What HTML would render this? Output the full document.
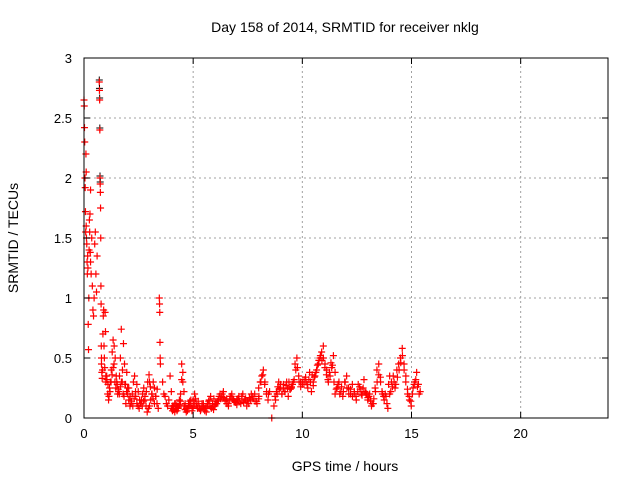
<!DOCTYPE html>
<html><head><meta charset="utf-8"><style>
body{margin:0;background:#fff;}
svg{display:block;font-family:"Liberation Sans",sans-serif;}
</style></head><body>
<svg id="chart" width="640" height="480">
<text x="345" y="32" font-size="14" text-anchor="middle">Day 158 of 2014, SRMTID for receiver nklg</text>
<text x="345" y="471" font-size="14" text-anchor="middle">GPS time / hours</text>
<text x="18" y="238" font-size="14" text-anchor="middle" transform="rotate(-90 18 238)">SRMTID / TECUs</text>
<g id="grid"></g><g id="marks"></g><g id="axes"></g>
</svg>
<script>
const xTicks=[0,5,10,15,20];
const yTicks=[0,0.5,1,1.5,2,2.5,3];
const yTickLabels=["0","0.5","1","1.5","2","2.5","3"];
const segStart=[0,0.1,0.3,0.7,0.8,1.0,2.0,3.0,3.45,3.6,4.0,5.0,6.0,7.0,8.0,8.6,8.7,9.5,10.5,11.5,13.0,14.0,
 1.05,2.05,4.05,5.05,6.05,7.05,8.75,9.55,10.55,11.55,13.05,14.05];
const segEnd=[0.1,0.3,0.6,0.8,1.0,2.0,3.0,3.4,3.5,4.0,5.0,6.0,7.0,8.0,8.5,8.6,9.5,10.5,11.5,13.0,14.0,15.4,
 1.95,3.35,4.95,5.95,6.95,8.45,9.45,10.45,11.45,12.95,13.95,15.35];
const segValues=[
[2.65,2.6,2.42,2.3,2.0,1.92,1.72,1.55,2.2,2.05],
[1.6,1.5,1.45,1.3,1.2,1.35,1.25,0.78,0.57,1.0,1.4,1.65,1.55,1.7,1.38,1.9],
[1.3,1.2,1.5,1.1,0.9,0.85,1.0,1.45,1.55,1.2,1.05,1.35],
[2.8,2.73,2.65,2.4,2.0,1.95,1.88,1.75,1.5,1.1,0.95,0.6,0.5],
[0.45,0.38,0.33,0.4,0.7,0.85,0.9,0.6,0.5,0.42,0.88,0.72,0.35],
[0.3,0.35,0.2,0.15,0.25,0.3,0.4,0.55,0.65,0.45,0.3,0.25,0.3,0.2,0.22,0.35,0.5,0.74,0.3,0.2,0.18,0.28,0.12,0.38,0.25],
[0.2,0.15,0.1,0.12,0.2,0.3,0.35,0.18,0.12,0.1,0.08,0.12,0.15,0.2,0.25,0.15,0.1,0.05,0.08,0.3],
[0.1,0.15,0.2,0.3,0.25,0.18,0.12,0.08],
[1.0,0.95,0.88,0.63,0.5,0.45],
[0.3,0.2,0.18,0.12,0.1,0.15,0.35,0.22],
[0.08,0.06,0.1,0.05,0.12,0.1,0.08,0.15,0.2,0.45,0.3,0.1,0.07,0.05,0.08,0.12,0.1,0.15,0.06,0.09],
[0.15,0.2,0.12,0.08,0.1,0.06,0.1,0.12,0.08,0.05,0.1,0.15,0.18,0.09,0.07,0.11],
[0.1,0.12,0.15,0.2,0.18,0.22,0.15,0.12,0.1,0.18,0.2,0.15,0.13,0.11],
[0.15,0.18,0.12,0.2,0.15,0.1,0.12,0.15,0.18,0.2,0.14,0.16],
[0.25,0.3,0.35,0.4,0.3,0.2,0.15,0.22],
[0.0],
[0.1,0.15,0.2,0.3,0.25,0.2,0.28,0.22,0.3,0.18,0.24,0.26],
[0.25,0.3,0.45,0.5,0.35,0.3,0.28,0.32,0.3,0.25,0.38,0.22,0.27],
[0.3,0.35,0.4,0.45,0.5,0.55,0.6,0.45,0.4,0.3,0.35,0.42,0.52,0.38],
[0.2,0.25,0.3,0.22,0.18,0.3,0.35,0.25,0.2,0.18,0.22,0.15,0.28,0.24,0.19,0.32,0.21,0.17],
[0.15,0.2,0.1,0.12,0.25,0.4,0.45,0.3,0.2,0.15,0.18,0.08,0.35],
[0.2,0.3,0.35,0.25,0.4,0.45,0.5,0.58,0.45,0.35,0.2,0.15,0.1,0.25,0.3,0.38,0.28,0.22],
[0.32,0.28,0.18,0.22,0.3,0.36,0.42,0.6,0.5,0.35,0.28,0.24,0.2,0.26,0.3,0.4,0.62,0.45,0.28,0.22],
[0.25,0.18,0.14,0.1,0.16,0.22,0.28,0.22,0.15,0.12,0.1,0.14,0.18,0.22,0.3,0.36,0.26,0.2,0.16,0.12,0.18,0.24],
[0.1,0.07,0.12,0.08,0.06,0.09,0.11,0.14,0.32,0.38,0.22,0.12,0.08,0.06,0.1,0.14,0.12,0.08],
[0.12,0.16,0.1,0.14,0.08,0.07,0.12,0.1,0.06,0.09,0.12,0.14,0.1,0.08,0.12,0.16],
[0.12,0.14,0.18,0.16,0.2,0.17,0.14,0.16,0.12,0.15,0.18,0.16,0.14,0.13],
[0.16,0.14,0.18,0.13,0.16,0.14,0.17,0.2,0.16,0.14,0.12,0.18,0.3,0.36,0.28,0.22,0.2],
[0.18,0.22,0.26,0.24,0.28,0.2,0.25,0.22,0.27,0.25,0.3,0.24],
[0.28,0.32,0.4,0.42,0.3,0.26,0.3,0.28,0.34,0.28,0.32,0.3,0.36],
[0.34,0.38,0.44,0.48,0.52,0.48,0.5,0.42,0.36,0.32,0.38,0.46,0.44,0.3],
[0.24,0.28,0.2,0.26,0.22,0.3,0.25,0.2,0.24,0.28,0.2,0.18,0.22,0.26,0.2,0.25,0.22,0.2],
[0.18,0.14,0.12,0.16,0.22,0.3,0.36,0.34,0.22,0.18,0.2,0.12,0.28],
[0.22,0.26,0.3,0.28,0.34,0.4,0.46,0.52,0.4,0.3,0.24,0.18,0.14,0.2,0.28,0.32,0.26,0.2]
];
const X0=84,X1=608,Y0=418,Y1=58;
const xs=t=>X0+(t/24)*(X1-X0);
const ys=v=>Y0-(v/3)*(Y0-Y1);
const NS="http://www.w3.org/2000/svg";
function mk(tag,attrs,parent){const e=document.createElementNS(NS,tag);for(const k in attrs)e.setAttribute(k,attrs[k]);parent.appendChild(e);return e;}
const grid=document.getElementById('grid'),axes=document.getElementById('axes'),marks=document.getElementById('marks');
xTicks.forEach((t,i)=>{const x=xs(t);
 if(i>0){const g=mk('line',{x1:x,x2:x,y1:Y0,y2:Y1,stroke:'#a0a0a0','stroke-dasharray':'2,3'},grid);
 
 }
 mk('line',{x1:x,x2:x,y1:Y0,y2:Y0-6,stroke:'#000'},axes);
 mk('line',{x1:x,x2:x,y1:Y1,y2:Y1+6,stroke:'#000'},axes);
 const l=mk('text',{x:x,y:Y0+20,'font-size':13,'text-anchor':'middle'},axes);l.textContent=String(t);
 
 
});
yTicks.forEach((v,i)=>{const y=ys(v);
 if(i>0&&i<yTicks.length-1){const g=mk('line',{x1:X0,x2:X1,y1:y,y2:y,stroke:'#a0a0a0','stroke-dasharray':'2,3'},grid);
 
 }
 mk('line',{x1:X0,x2:X0+6,y1:y,y2:y,stroke:'#000'},axes);
 mk('line',{x1:X1,x2:X1-6,y1:y,y2:y,stroke:'#000'},axes);
 const l=mk('text',{x:X0-12,y:y+5,'font-size':13,'text-anchor':'end'},axes);l.textContent=yTickLabels[i];
 
 
});
const fr=mk('rect',{x:X0,y:Y1,width:X1-X0,height:Y0-Y1,fill:'none',stroke:'#000'},axes);


segValues.forEach((vals,s)=>{const n=vals.length;
 vals.forEach((v,j)=>{const t=n>1?segStart[s]+(segEnd[s]-segStart[s])*j/(n-1):segStart[s];
  const x=xs(t),y=ys(v);
  if(s===3&&j<6){const b=mk('path',{d:`M${x-3.5},${y-2}h7M${x},${y-5.5}v7`,stroke:'#000','stroke-width':1},marks);
   
   }
  const p=mk('path',{d:`M${x-3.5},${y}h7M${x},${y-3.5}v7`,stroke:'#f00','stroke-width':1.2},marks);
  
  
 });
});
</script>
</body></html>
